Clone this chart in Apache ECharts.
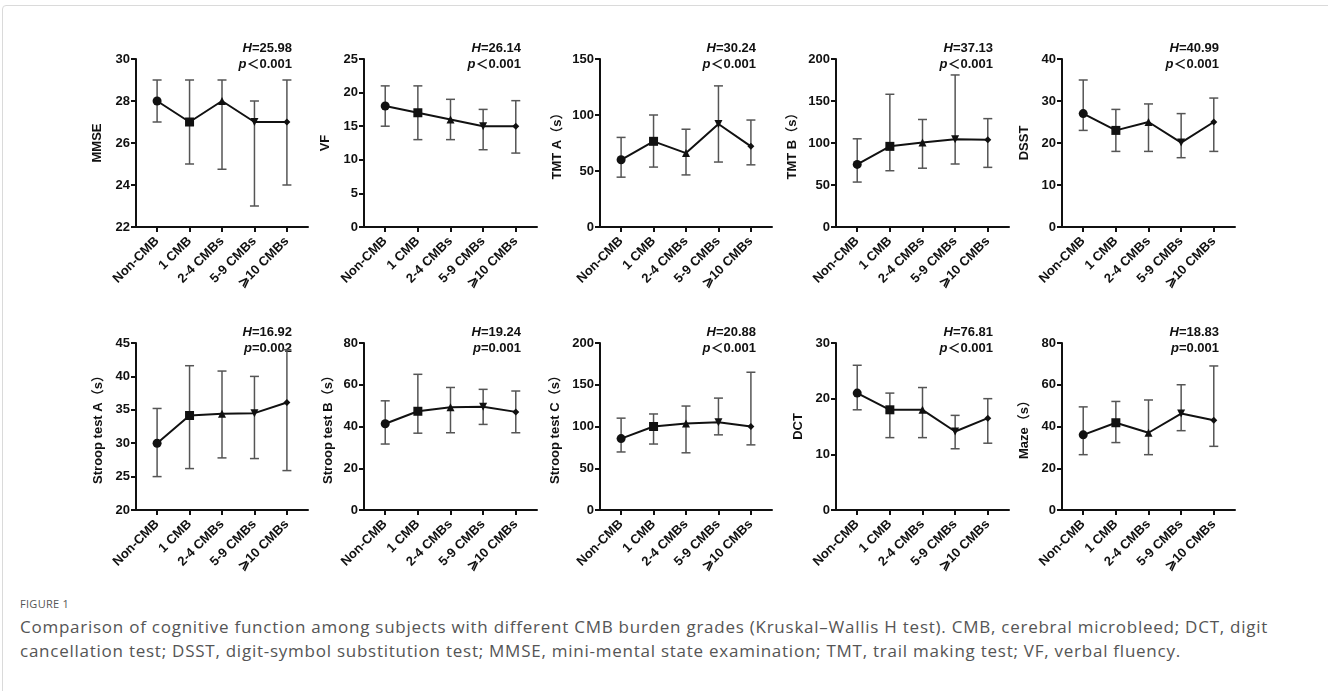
<!DOCTYPE html>
<html>
<head>
<meta charset="utf-8">
<title>CMB burden and cognition</title>
<script src="https://cdn.jsdelivr.net/npm/echarts@6/dist/echarts.min.js"></script>
<style>
  html, body { margin: 0; padding: 0; background: #fff; }
  body { width: 1328px; height: 691px; position: relative; overflow: hidden; }
  .frame { position: absolute; left: 2px; top: 5px; width: 1340px; height: 800px; border: 1px solid #dadada; border-radius: 4px; }
  #chart { position: absolute; left: 0; top: 0; width: 1328px; height: 580px; }
  .fig-label { position: absolute; left: 20px; top: 596px; font-family: "Open Sans", sans-serif; font-size: 11px; color: #555; letter-spacing: 0.3px; }
  .caption { position: absolute; left: 20px; top: 615px; font-family: "Open Sans", sans-serif; font-size: 17px; letter-spacing: 0.75px; line-height: 24px; color: #555; white-space: nowrap; }
</style>
</head>
<body>
<div class="frame"></div>
<div id="chart"></div>
<div class="fig-label">FIGURE 1</div>
<div class="caption">Comparison of cognitive function among subjects with different CMB burden grades (Kruskal–Wallis H test). CMB, cerebral microbleed; DCT, digit<br>cancellation test; DSST, digit-symbol substitution test; MMSE, mini-mental state examination; TMT, trail making test; VF, verbal fluency.</div>
<script>
// 组别
const categories = ['Non-CMB', '1 CMB', '2-4 CMBs', '5-9 CMBs', '⩾10 CMBs']

// 各项指标：中位数 / 下限 / 上限
const mmseMedian = [28, 27, 28, 27, 27]
const mmseLow = [27, 25, 24.75, 23, 24]
const mmseHigh = [29, 29, 29, 28, 29]

const vfMedian = [18, 17, 16, 15, 15]
const vfLow = [15, 13, 13, 11.5, 11]
const vfHigh = [21, 21, 19, 17.5, 18.8]

const tmtAMedian = [60, 76.5, 66, 92, 72]
const tmtALow = [44.5, 53.5, 46.5, 58, 55.5]
const tmtAHigh = [80, 100, 87.3, 126, 95.5]

const tmtBMedian = [74.5, 96, 100.5, 104.5, 104]
const tmtBLow = [53.5, 67, 70, 75, 71]
const tmtBHigh = [105, 158, 128, 181, 129]

const dsstMedian = [27, 23, 25, 20.1, 25]
const dsstLow = [23, 18, 18, 16.5, 18]
const dsstHigh = [35, 28, 29.3, 27, 30.7]

const stroopAMedian = [30, 34.15, 34.4, 34.5, 36.1]
const stroopALow = [25, 26.2, 27.8, 27.7, 25.9]
const stroopAHigh = [35.2, 41.6, 40.8, 40, 44]

const stroopBMedian = [41.3, 47.3, 49.2, 49.5, 47]
const stroopBLow = [31.6, 36.8, 37, 41, 37]
const stroopBHigh = [52.3, 65, 58.7, 57.8, 57]

const stroopCMedian = [85.5, 100, 103.5, 105, 100]
const stroopCLow = [69.5, 79, 68.5, 90, 78]
const stroopCHigh = [110, 115, 124.5, 134, 165]

const dctMedian = [21, 18, 18, 14.1, 16.5]
const dctLow = [18, 13, 13, 11, 12]
const dctHigh = [26, 21, 22, 17, 20]

const mazeMedian = [36, 41.8, 37, 46.2, 43]
const mazeLow = [26.5, 32.3, 26.5, 38, 30.5]
const mazeHigh = [49.4, 52, 52.7, 60, 69]

// 统计量
const hValues = ['25.98', '26.14', '30.24', '37.13', '40.99', '16.92', '19.24', '20.88', '76.81', '18.83']
const pValues = ['＜0.001', '＜0.001', '＜0.001', '＜0.001', '＜0.001', '=0.002', '=0.001', '＜0.001', '＜0.001', '=0.001']

const axisNames = ['MMSE', 'VF', 'TMT A（s）', 'TMT B（s）', 'DSST', 'Stroop test A（s）', 'Stroop test B（s）', 'Stroop test C（s）', 'DCT', 'Maze（s）']
const yMin = [22, 0, 0, 0, 0, 20, 0, 0, 0, 0]
const yMax = [30, 25, 150, 200, 40, 45, 80, 200, 30, 80]
const yStep = [2, 5, 50, 50, 10, 5, 20, 50, 10, 20]

const medians = [mmseMedian, vfMedian, tmtAMedian, tmtBMedian, dsstMedian, stroopAMedian, stroopBMedian, stroopCMedian, dctMedian, mazeMedian]
const lows = [mmseLow, vfLow, tmtALow, tmtBLow, dsstLow, stroopALow, stroopBLow, stroopCLow, dctLow, mazeLow]
const highs = [mmseHigh, vfHigh, tmtAHigh, tmtBHigh, dsstHigh, stroopAHigh, stroopBHigh, stroopCHigh, dctHigh, mazeHigh]

// 布局
const colLeft = [136, 364, 600, 836, 1062]
const colWidth = [172, 173, 172, 173, 173]
const rowTop = [59, 343]
const rowHeight = [168, 167]
const nameGaps = [32, 32, 36, 37, 31, 31, 29, 38, 31, 31]

const symbols = ['circle', 'rect', 'triangle', 'triangle', 'diamond']
const symbolSizes = [9, 9, 8, 8, 7]
const symbolRotates = [0, 0, 0, 180, 0]

const font = 'Liberation Sans, Arial, Noto Sans CJK SC, sans-serif'
const idx = [0, 1, 2, 3, 4]

const grids = []
const xAxes = []
const yAxes = []
const series = []
const graphics = []

for (let i = 0; i < 10; i++) {
  const col = i % 5
  const row = Math.floor(i / 5)
  grids.push({ left: colLeft[col], top: rowTop[row], width: colWidth[col], height: rowHeight[row] })
  xAxes.push({
    gridIndex: i,
    type: 'value',
    min: -0.65,
    max: 4.65,
    splitLine: { show: false },
    axisLine: { onZero: false, lineStyle: { color: '#111', width: 2 } },
    axisTick: { customValues: idx, length: 5, lineStyle: { color: '#111', width: 2 } },
    axisLabel: {
      customValues: idx,
      formatter: v => categories[v],
      rotate: 45,
      margin: 12,
      color: '#111',
      fontFamily: font,
      fontWeight: 'bold',
      fontSize: 13
    }
  })
  yAxes.push({
    gridIndex: i,
    type: 'value',
    min: yMin[i],
    max: yMax[i],
    interval: yStep[i],
    name: axisNames[i],
    nameLocation: 'middle',
    nameGap: nameGaps[i],
    nameTextStyle: { color: '#111', fontFamily: font, fontWeight: 'bold', fontSize: 13 },
    splitLine: { show: false },
    axisLine: { show: true, onZero: false, lineStyle: { color: '#111', width: 2 } },
    axisTick: { show: true, length: 5, lineStyle: { color: '#111', width: 2 } },
    axisLabel: { color: '#111', fontFamily: font, fontWeight: 'bold', fontSize: 13, margin: 6 }
  })
  // 误差线
  series.push({
    type: 'custom',
    xAxisIndex: i,
    yAxisIndex: i,
    data: idx.map(j => [j, lows[i][j], highs[i][j]]),
    encode: { x: 0, y: [1, 2] },
    z: 2,
    renderItem(params, api) {
      const x = api.value(0)
      const lo = api.coord([x, api.value(1)])
      const hi = api.coord([x, api.value(2)])
      const w = 4.5
      const st = { stroke: '#555', lineWidth: 1.5 }
      return {
        type: 'group',
        children: [
          { type: 'line', shape: { x1: lo[0], y1: lo[1], x2: hi[0], y2: hi[1] }, style: st },
          { type: 'line', shape: { x1: hi[0] - w, y1: hi[1], x2: hi[0] + w, y2: hi[1] }, style: st },
          { type: 'line', shape: { x1: lo[0] - w, y1: lo[1], x2: lo[0] + w, y2: lo[1] }, style: st }
        ]
      }
    }
  })
  // 中位数折线
  series.push({
    type: 'line',
    xAxisIndex: i,
    yAxisIndex: i,
    z: 3,
    data: idx.map(j => ({
      value: [j, medians[i][j]],
      symbol: symbols[j],
      symbolSize: symbolSizes[j],
      symbolRotate: symbolRotates[j]
    })),
    lineStyle: { color: '#111', width: 2 },
    itemStyle: { color: '#111' },
    emphasis: { disabled: true }
  })
  // H / p 标注
  const rx = colLeft[col] + colWidth[col] - 16
  const ty = rowTop[row] - 11
  graphics.push({
    type: 'text',
    x: rx,
    y: ty,
    style: {
      text: '{i|H}=' + hValues[i],
      align: 'right',
      verticalAlign: 'middle',
      font: 'bold 13px ' + font,
      fill: '#111',
      rich: { i: { fontStyle: 'italic', fontWeight: 'bold', fontSize: 13, fontFamily: font } }
    }
  })
  graphics.push({
    type: 'text',
    x: rx,
    y: ty + 16,
    style: {
      text: '{i|p}' + pValues[i],
      align: 'right',
      verticalAlign: 'middle',
      font: 'bold 13px ' + font,
      fill: '#111',
      rich: { i: { fontStyle: 'italic', fontWeight: 'bold', fontSize: 13, fontFamily: font } }
    }
  })
}

const myChart = echarts.init(document.getElementById('chart'))
myChart.setOption({
  animation: false,
  grid: grids,
  xAxis: xAxes,
  yAxis: yAxes,
  series: series,
  graphic: graphics
})
</script>
</body>
</html>
